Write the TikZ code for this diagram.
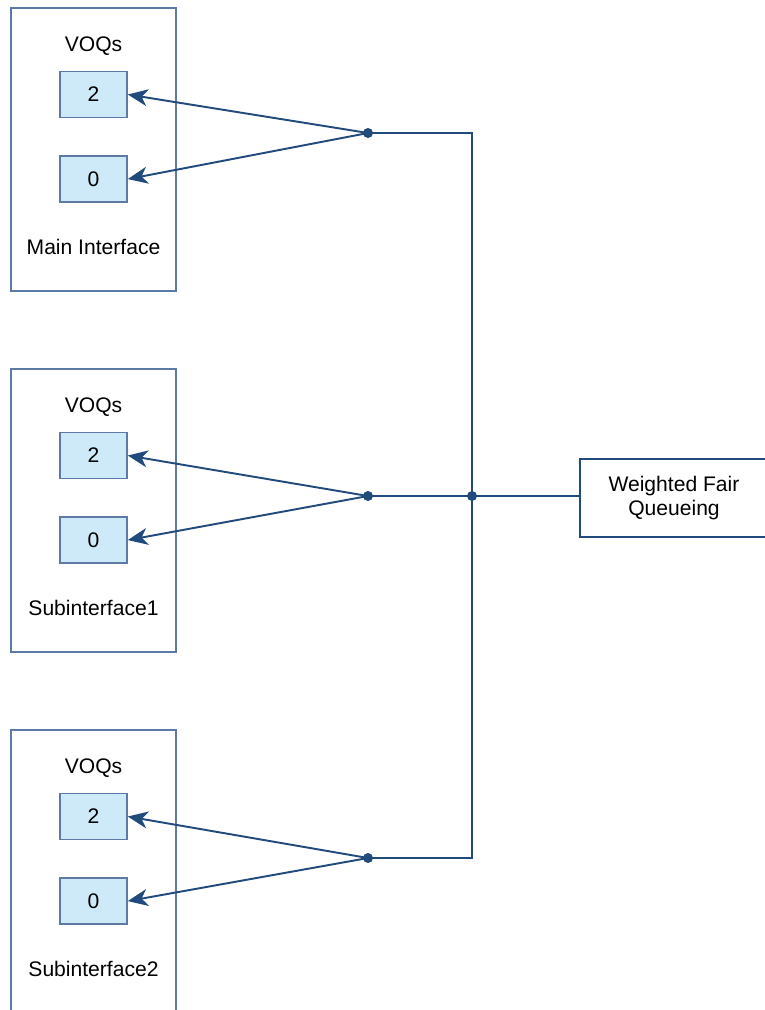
\documentclass[tikz,border=0pt]{standalone}
\usepackage{fontspec}
\setmainfont{Liberation Sans}
\usetikzlibrary{positioning,arrows.meta}
\definecolor{linkblue}{RGB}{33,74,125}
\definecolor{frameblue}{RGB}{92,122,165}
\definecolor{voqfill}{RGB}{206,233,247}
\begin{document}
\begin{tikzpicture}[font=\fontsize{12}{14}\selectfont]
            \tikzstyle{iface} = [rectangle, draw=frameblue, line width=0.8pt, minimum width=3.3cm, minimum height=5.66cm]
            \tikzstyle{voq} = [rectangle, draw=frameblue, fill=voqfill, line width=0.9pt, minimum width=1.34cm, minimum height=0.92cm]
            \tikzstyle{arr} = [-{Stealth[length=0.4cm, width=0.34cm, inset=0.12cm]}, draw=linkblue, line width=1.1pt]
            \tikzstyle{link} = [draw=linkblue, line width=1.1pt]
            \tikzstyle{dot} = [circle, fill=linkblue, inner sep=0pt, minimum size=0.2cm]
            \useasboundingbox (0,0) rectangle (15.3,-20.2);
            \clip (0,0) rectangle (15.3,-20.2);

            % main interface
            \node [iface] (mainbox) at (1.87,-2.99) {};
            \node (mainvoqs) at (1.87,-0.92) {VOQs};
            \node [voq] (main2) at (1.87,-1.89) {2};
            \node [voq, below=0.74cm of main2] (main0) {0};
            \node (mainlabel) at (1.87,-4.94) {Main Interface};

            % subinterface 1
            \node [iface] (subabox) at (1.87,-10.21) {};
            \node (subavoqs) at (1.87,-8.14) {VOQs};
            \node [voq] (suba2) at (1.87,-9.11) {2};
            \node [voq, below=0.74cm of suba2] (suba0) {0};
            \node (subalabel) at (1.87,-12.16) {Subinterface1};

            % subinterface 2
            \node [iface] (subbbox) at (1.87,-17.43) {};
            \node (subbvoqs) at (1.87,-15.36) {VOQs};
            \node [voq] (subb2) at (1.87,-16.33) {2};
            \node [voq, below=0.74cm of subb2] (subb0) {0};
            \node (subblabel) at (1.87,-19.38) {Subinterface2};

            % scheduler
            \node [rectangle, draw=linkblue, line width=1pt, minimum width=3.76cm, minimum height=1.56cm, align=center] (wfq) at (13.48,-9.96) {Weighted Fair\\Queueing};

            \node [dot] (maindot) at (7.36,-2.66) {};
            \node [dot] (subadot) at (7.36,-9.92) {};
            \node [dot] (subbdot) at (7.36,-17.16) {};
            \node [dot] (hub) at (9.44,-9.92) {};

            \draw[arr] (maindot.center) -- (main2.east);
            \draw[arr] (maindot.center) -- (main0.east);
            \draw[arr] (subadot.center) -- (suba2.east);
            \draw[arr] (subadot.center) -- (suba0.east);
            \draw[arr] (subbdot.center) -- (subb2.east);
            \draw[arr] (subbdot.center) -- (subb0.east);

            \draw[link] (maindot.center) -| (hub.center);
            \draw[link] (subbdot.center) -| (hub.center);
            \draw[link] (subadot.center) -- (hub.center) -- (hub.center -| wfq.west);
\end{tikzpicture}
\end{document}
